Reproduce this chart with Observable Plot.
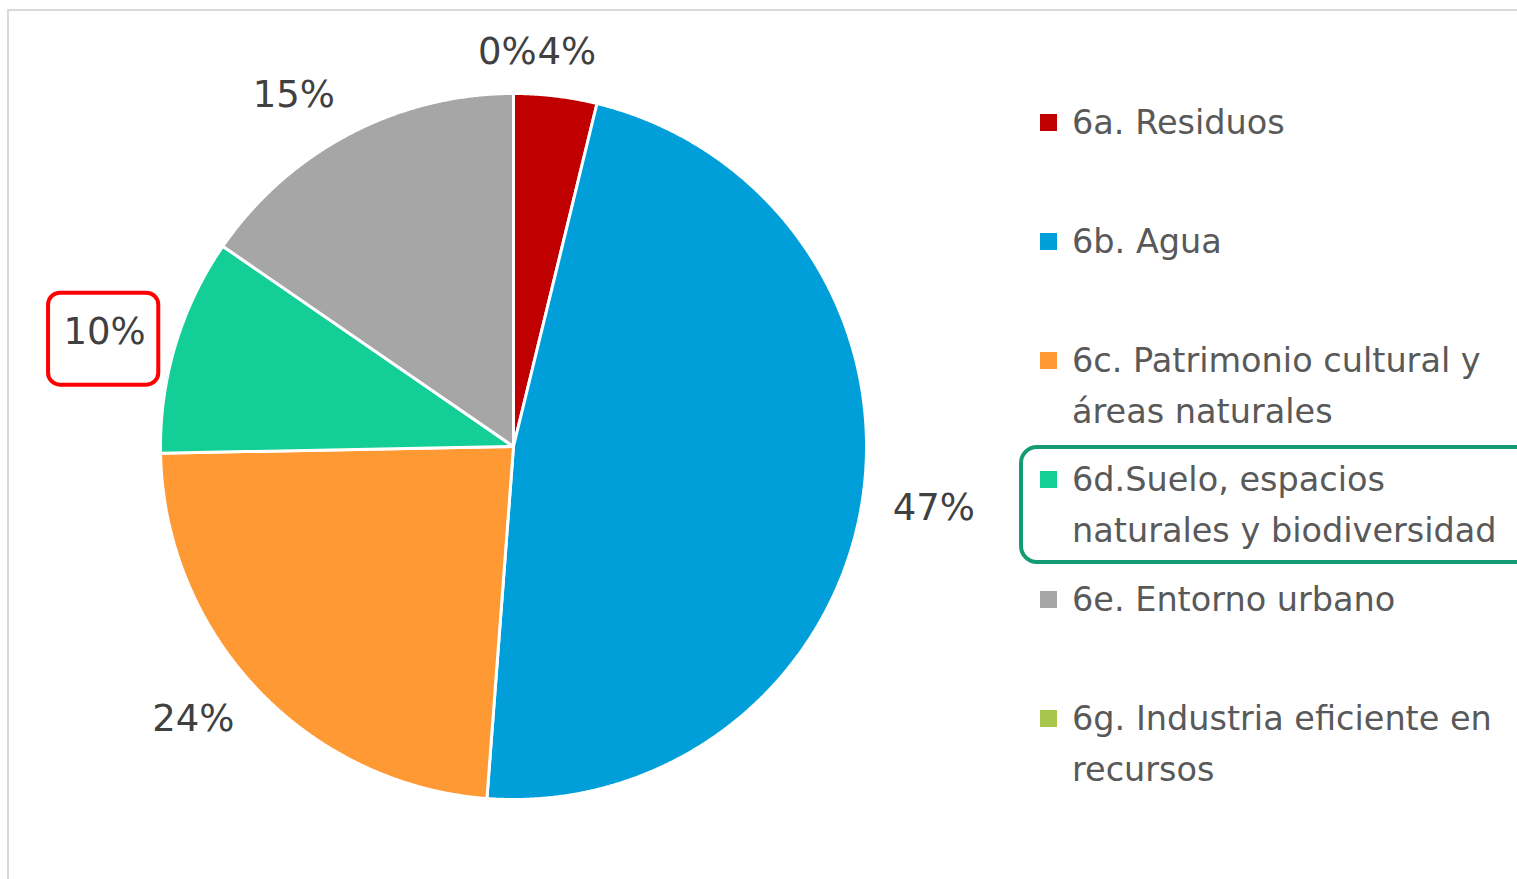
<!DOCTYPE html>
<html>
<head>
<meta charset="utf-8">
<script src="https://cdn.jsdelivr.net/npm/d3@7"></script>
<script src="https://cdn.jsdelivr.net/npm/@observablehq/plot@0.6"></script>
<style>
  html, body { margin: 0; padding: 0; background: #fff; overflow: hidden; }
  #wrap { position: relative; width: 1517px; height: 879px; font-family: "DejaVu Sans", sans-serif; }
  #frame { position: absolute; left: 7px; top: 9px; width: 1600px; height: 1000px; border: 2px solid #d9d9d9; box-sizing: border-box; }
  #chart { position: absolute; left: 0; top: 0; }
  #legend { position: absolute; left: 1038px; top: 96.5px; }
  .item { position: absolute; left: 0; height: 119px; }
  .sw { position: absolute; left: 2px; top: 17px; width: 17px; height: 17px; }
  .tx { position: absolute; left: 34px; top: 0; width: 460px; font-size: 33.5px; line-height: 51px; color: #595959; white-space: normal; }
  .hl { position: absolute; left: -19px; top: -9.5px; width: 600px; height: 119px; border: 4px solid #149b73; border-radius: 18px; box-sizing: border-box; }
</style>
</head>
<body>
<div id="wrap">
  <div id="frame"></div>
  <div id="chart"></div>
  <div id="legend"></div>
</div>
<script>
// ---- data ----
const names = [
  "6a. Residuos",
  "6b. Agua",
  "6c. Patrimonio cultural y áreas naturales",
  "6d.Suelo, espacios naturales y biodiversidad",
  "6e. Entorno urbano",
  "6g. Industria eficiente en recursos"
];
const shares = [3.8, 47.4, 23.5, 9.9, 15.4, 0];
const colors = ["#c00000", "#009fda", "#ff9933", "#13cf97", "#a6a6a6", "#a7c64b"];
const highlighted = "6d.Suelo, espacios naturales y biodiversidad";

// ---- geometry ----
const R = 353;            // pie radius in px (one data unit)
const fs = 37;            // label font size
const gap = 31, digitH = 26;
const total = d3.sum(shares);
let acc = 0;
const slices = names.map((name, i) => {
  const a0 = acc / total * 2 * Math.PI;
  acc += shares[i];
  const a1 = acc / total * 2 * Math.PI;
  return {name, value: shares[i], a0, a1};
});

const pts = slices.flatMap(s => {
  const n = Math.max(1, Math.ceil((s.a1 - s.a0) / (Math.PI / 720)));
  const arr = [{name: s.name, x: 0, y: 0}];
  for (let k = 0; k <= n; k++) {
    const a = s.a0 + (s.a1 - s.a0) * k / n;
    arr.push({name: s.name, x: Math.sin(a), y: Math.cos(a)});
  }
  arr.push({name: s.name, x: 0, y: 0});
  return arr;
});

const labs = slices.map(s => {
  const m = (s.a0 + s.a1) / 2;
  const dx = Math.sin(m), dy = Math.cos(m);
  const text = Math.round(s.value) + "%";
  const w = (text.length - 1) * 0.636 * fs + 0.95 * fs;
  const k = 1 + gap / R;
  const xoff = Math.sign(dx) * Math.min(1, Math.abs(dx) * 2.2) * w / 2;
  return {name: s.name, value: s.value, text, w,
          x: dx * k + xoff / R, y: dy * k + dy * digitH / 2 / R, anchor: "middle"};
});
// overlap avoidance for zero-valued labels: place left of the colliding label
labs.forEach(l => {
  if (l.value !== 0) return;
  const o = labs.find(q => q !== l && Math.abs(q.x - l.x) * R < (q.w + l.w) / 2 && Math.abs(q.y - l.y) * R < digitH + 12);
  if (o) { l.y = o.y; l.x = o.x - (o.w / 2 + 1) / R; l.anchor = "end"; }
});
const hlLab = labs.find(l => l.name === highlighted);
const hlBox = [{x1: hlLab.x - (hlLab.w / 2 + 15) / R, x2: hlLab.x + (hlLab.w / 2 + 13) / R,
                y1: hlLab.y - 53 / R, y2: hlLab.y + 39 / R}];

const plot = Plot.plot({
  width: 1517,
  height: 879,
  margin: 0,
  x: {domain: [-1, 1], range: [160, 866], axis: null},
  y: {domain: [-1, 1], range: [799, 93], axis: null},
  color: {domain: names, range: colors},
  style: {fontFamily: "DejaVu Sans, sans-serif", background: "transparent"},
  marks: [
    Plot.line(pts, {x: "x", y: "y", z: "name", fill: "name", stroke: "white", strokeWidth: 3, strokeLinejoin: "miter"}),
    Plot.text(labs.filter(l => l.anchor === "middle"), {x: "x", y: "y", text: "text", fontSize: fs, fill: "#404040", textAnchor: "middle"}),
    Plot.text(labs.filter(l => l.anchor === "end"), {x: "x", y: "y", text: "text", fontSize: fs, fill: "#404040", textAnchor: "end"}),
    Plot.rect(hlBox, {x1: "x1", x2: "x2", y1: "y1", y2: "y2", fill: "none", stroke: "#ff0000", strokeWidth: 4, rx: 12})
  ]
});
document.getElementById("chart").appendChild(plot);

// ---- legend ----
const legend = document.getElementById("legend");
const step = 119.3;
names.forEach((n, i) => {
  const it = document.createElement("div");
  it.className = "item";
  it.style.top = (i * step) + "px";
  const sw = document.createElement("div");
  sw.className = "sw";
  sw.style.background = colors[i];
  const tx = document.createElement("div");
  tx.className = "tx";
  tx.textContent = n;
  it.appendChild(sw);
  it.appendChild(tx);
  if (n === highlighted) {
    const hb = document.createElement("div");
    hb.className = "hl";
    it.appendChild(hb);
  }
  legend.appendChild(it);
});
</script>
</body>
</html>
